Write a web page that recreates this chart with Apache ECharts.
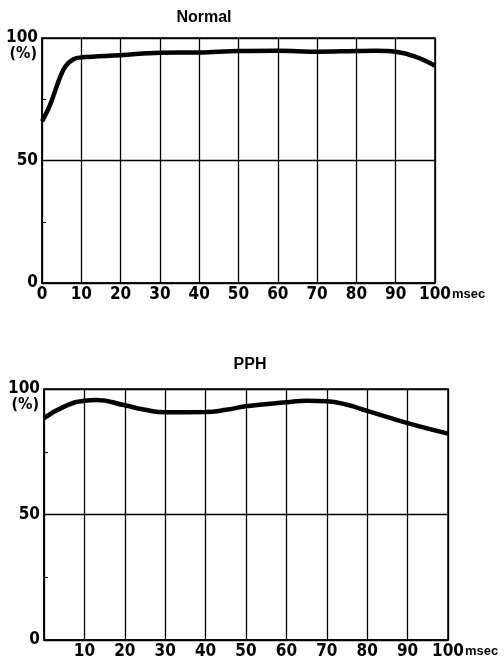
<!DOCTYPE html>
<html>
<head>
<meta charset="utf-8">
<script src="https://cdn.jsdelivr.net/npm/echarts@6/dist/echarts.min.js"></script>
<style>
  html, body { margin: 0; padding: 0; background: #fff; }
  #chart { width: 504px; height: 663px; }
</style>
</head>
<body>
<div id="chart"></div>
<script>
// values (time in msec, % response)
const normalTime = [0, 2, 4.6, 6, 8, 10, 20, 30, 40, 50, 60, 70, 80, 85, 90, 95, 100]
const normalValues = [66, 72.5, 84, 88.5, 91.3, 92.1, 93, 94, 94.1, 94.7, 94.8, 94.4, 94.7, 94.8, 94.4, 92.4, 88.7]
const pphTime = [0, 5, 10, 13, 20, 25, 30, 40, 45, 50, 60, 65, 70, 75, 80, 90, 100]
const pphValues = [88.4, 93, 95.3, 95.6, 93.5, 91.7, 90.7, 90.8, 91.7, 93.1, 94.7, 95.3, 95.1, 93.7, 91.3, 86.4, 82.2]
const xTicks = [0, 10, 20, 30, 40, 50, 60, 70, 80, 90, 100]
const yTicks = [0, 50, 100]

const font = '"Liberation Sans Narrow", "DejaVu Sans Condensed", sans-serif'

const chart = echarts.init(document.getElementById('chart'))

const makeX = (idx, showZero) => ({
  type: 'value',
  gridIndex: idx,
  min: 0,
  max: 100,
  interval: 10,
  name: 'msec',
  nameLocation: 'end',
  nameGap: 17,
  nameMoveOverlap: false,
  nameTextStyle: {
    color: '#000', fontSize: 13, fontWeight: 'bold', fontFamily: 'Liberation Sans, sans-serif',
    align: 'left', verticalAlign: 'top', padding: [5, 0, 0, 0]
  },
  axisLine: { show: true, lineStyle: { color: '#000', width: 1.5 } },
  axisTick: { show: false },
  splitLine: { show: true, lineStyle: { color: '#000', width: 1.3 } },
  axisLabel: {
    color: '#000', fontSize: 17, fontWeight: 'bold', fontFamily: font, margin: 3,
    formatter: (v) => (xTicks.includes(v) && (v !== 0 || showZero) ? String(v) : '')
  }
})

const makeY = (idx) => ({
  type: 'value',
  gridIndex: idx,
  min: 0,
  max: 100,
  interval: 50,
  name: '(%)',
  nameLocation: 'end',
  nameGap: -8,
  nameMoveOverlap: false,
  nameTextStyle: {
    color: '#000', fontSize: 16, fontWeight: 'bold', fontFamily: font,
    align: 'right', verticalAlign: 'top', padding: [0, 5, 0, 0]
  },
  axisLine: { show: true, lineStyle: { color: '#000', width: 1.5 } },
  axisTick: { show: false, inside: true },
  minorTick: { show: true, splitNumber: 2, length: 4, lineStyle: { color: '#000', width: 1 } },
  splitLine: { show: true, lineStyle: { color: '#000', width: 1.3 } },
  axisLabel: {
    color: '#000', fontSize: 17, fontWeight: 'bold', fontFamily: font, margin: 4,
    formatter: (v) => (yTicks.includes(v) ? String(v) : '')
  }
})

const option = {
  animation: false,
  title: [
    { text: 'Normal', left: 199, top: 5, textAlign: 'center',
      textStyle: { color: '#000', fontSize: 16, fontWeight: 'bold', fontFamily: 'Liberation Sans, sans-serif' } },
    { text: 'PPH', left: 245, top: 352, textAlign: 'center',
      textStyle: { color: '#000', fontSize: 16, fontWeight: 'bold', fontFamily: 'Liberation Sans, sans-serif' } }
  ],
  grid: [
    { left: 42, top: 38, width: 393, height: 245, show: true, borderColor: '#000', borderWidth: 1.5 },
    { left: 44, top: 389, width: 404, height: 251, show: true, borderColor: '#000', borderWidth: 1.5 }
  ],
  xAxis: [makeX(0, true), makeX(1, false)],
  yAxis: [makeY(0), makeY(1)],
  series: [
    {
      name: 'Normal', type: 'line', xAxisIndex: 0, yAxisIndex: 0,
      smooth: 0.4, symbol: 'none',
      lineStyle: { color: '#000', width: 4.5 },
      data: normalTime.map((t, i) => [t, normalValues[i]])
    },
    {
      name: 'PPH', type: 'line', xAxisIndex: 1, yAxisIndex: 1,
      smooth: true, symbol: 'none',
      lineStyle: { color: '#000', width: 4.5 },
      data: pphTime.map((t, i) => [t, pphValues[i]])
    }
  ]
}

chart.setOption(option)
</script>
</body>
</html>
